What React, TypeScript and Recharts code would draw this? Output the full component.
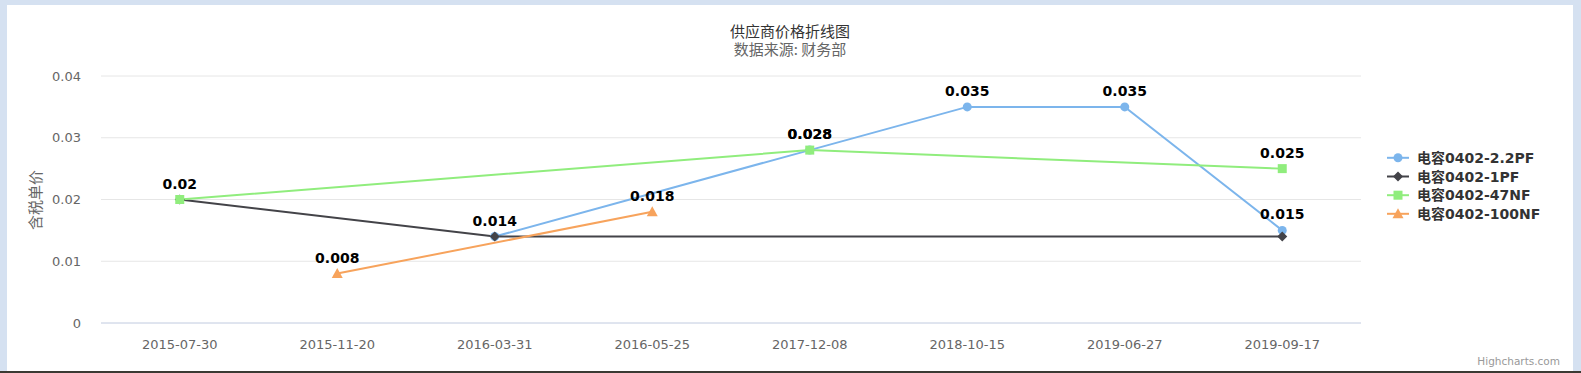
import React from "react";
import {
  LineChart,
  Line,
  XAxis,
  YAxis,
  CartesianGrid,
  LabelList,
} from "recharts";

const categories = [
  "2015-07-30",
  "2015-11-20",
  "2016-03-31",
  "2016-05-25",
  "2017-12-08",
  "2018-10-15",
  "2019-06-27",
  "2019-09-17",
];

const cap22pf = [null, null, 0.014, null, 0.028, 0.035, 0.035, 0.015];
const cap1pf = [0.02, null, 0.014, null, null, null, null, 0.014];
const cap47nf = [0.02, null, null, null, 0.028, null, null, 0.025];
const cap100nf = [null, 0.008, null, 0.018, null, null, null, null];

const yTicks = [0, 0.01, 0.02, 0.03, 0.04];

const seriesNames = ["电容0402-2.2PF", "电容0402-1PF", "电容0402-47NF", "电容0402-100NF"];

const data = categories.map((date, i) => ({
  date,
  s0: cap22pf[i],
  s1: cap1pf[i],
  s2: cap47nf[i],
  s3: cap100nf[i],
}));

type Shape = "circle" | "diamond" | "square" | "triangle";

const series: { key: string; name: string; color: string; shape: Shape; labels: boolean }[] = [
  { key: "s0", name: seriesNames[0], color: "#7cb5ec", shape: "circle", labels: true },
  { key: "s1", name: seriesNames[1], color: "#434348", shape: "diamond", labels: false },
  { key: "s2", name: seriesNames[2], color: "#90ed7d", shape: "square", labels: true },
  { key: "s3", name: seriesNames[3], color: "#f7a35c", shape: "triangle", labels: true },
];

const NUM_FONT = '"DejaVu Sans", "Noto Sans CJK SC", sans-serif';
const CJK_FONT = '"Noto Sans CJK SC", "DejaVu Sans", sans-serif';

function marker(shape: Shape, cx: number, cy: number, color: string, key?: string) {
  if (shape === "circle") return <circle key={key} cx={cx} cy={cy} r={4.5} fill={color} />;
  if (shape === "square")
    return <rect key={key} x={cx - 4.5} y={cy - 4.5} width={9} height={9} fill={color} />;
  if (shape === "diamond")
    return (
      <path
        key={key}
        d={`M${cx},${cy - 5} L${cx + 5},${cy} L${cx},${cy + 5} L${cx - 5},${cy} Z`}
        fill={color}
      />
    );
  return (
    <path
      key={key}
      d={`M${cx},${cy - 5.5} L${cx + 5.5},${cy + 4.5} L${cx - 5.5},${cy + 4.5} Z`}
      fill={color}
    />
  );
}

const makeDot = (shape: Shape, color: string) => (props: any) => {
  const { cx, cy, value, index } = props;
  if (value == null || cy == null || isNaN(cy)) return <g key={`e-${index}`} />;
  return marker(shape, cx, cy, color, `m-${index}`);
};

const renderLabel = (props: any) => {
  const { x, y, value, index } = props;
  if (value == null || y == null) return null;
  return (
    <text
      key={`l-${index}`}
      x={x}
      y={y - 11}
      textAnchor="middle"
      fontFamily={NUM_FONT}
      fontWeight="bold"
      fontSize={14}
      fill="#000"
    >
      {String(value)}
    </text>
  );
};

const YTick = (props: any) => {
  const { y, payload } = props;
  return (
    <text x={74} y={y + 4.5} textAnchor="end" fontFamily={NUM_FONT} fontSize={13} fill="#666">
      {String(payload.value)}
    </text>
  );
};

const XTick = (props: any) => {
  const { x, payload } = props;
  return (
    <text x={x} y={343.5} textAnchor="middle" fontFamily={NUM_FONT} fontSize={13} fill="#666">
      {payload.value}
    </text>
  );
};

const legendRows = [157.8, 176.5, 195.2, 213.8];

export default function App() {
  return (
    <div
      style={{
        position: "absolute",
        left: 0,
        top: 0,
        width: 1581,
        height: 373,
        background: "#d5e1f1",
        overflow: "hidden",
      }}
    >
      <div
        style={{
          position: "absolute",
          left: 7,
          top: 5,
          width: 1566,
          height: 366,
          background: "#fff",
        }}
      >
        <LineChart
          width={1566}
          height={366}
          data={data}
          margin={{ top: 71, right: 212, bottom: 0, left: 0 }}
        >
          <CartesianGrid vertical={false} stroke="#e6e6e6" />
          <XAxis
            dataKey="date"
            interval={0}
            height={48}
            padding={{ left: 78.75, right: 78.75 }}
            axisLine={{ stroke: "#ccd6eb" }}
            tickLine={false}
            tick={<XTick />}
          />
          <YAxis
            width={94}
            domain={[0, 0.04]}
            ticks={yTicks}
            axisLine={false}
            tickLine={false}
            tick={<YTick />}
          />
          {series.map((s) => (
            <Line
              key={s.key}
              dataKey={s.key}
              name={s.name}
              stroke={s.color}
              strokeWidth={2}
              connectNulls
              isAnimationActive={false}
              dot={makeDot(s.shape, s.color)}
              activeDot={false}
            >
              {s.labels && <LabelList dataKey={s.key} content={renderLabel} />}
            </Line>
          ))}
        </LineChart>
      </div>
      <div
        style={{
          position: "absolute",
          left: 0,
          top: 371,
          width: 1581,
          height: 2,
          background: "#3b3a33",
        }}
      />
      <svg
        width={1581}
        height={373}
        style={{ position: "absolute", left: 0, top: 0, pointerEvents: "none" }}
      >
        <text x={790} y={36.5} textAnchor="middle" fontFamily={CJK_FONT} fontSize={15} fill="#333">
          供应商价格折线图
        </text>
        <text x={790} y={55} textAnchor="middle" fontFamily={CJK_FONT} fontSize={15} fill="#666">
          数据来源: 财务部
        </text>
        <text
          x={34.5}
          y={200}
          textAnchor="middle"
          dominantBaseline="central"
          transform="rotate(-90 34.5 200)"
          fontFamily={CJK_FONT}
          fontSize={15}
          fill="#666"
        >
          含税单价
        </text>
        {series.map((s, i) => (
          <g key={s.key}>
            <line
              x1={1387}
              x2={1409}
              y1={legendRows[i]}
              y2={legendRows[i]}
              stroke={s.color}
              strokeWidth={2}
            />
            {marker(s.shape, 1398, legendRows[i], s.color)}
            <text
              x={1417}
              y={legendRows[i] + 5}
              fontFamily={NUM_FONT}
              fontWeight="bold"
              fontSize={14}
              fill="#333"
            >
              {s.name}
            </text>
          </g>
        ))}
        <text x={1560} y={364.5} textAnchor="end" fontFamily={NUM_FONT} fontSize={10.5} fill="#999">
          Highcharts.com
        </text>
      </svg>
    </div>
  );
}
